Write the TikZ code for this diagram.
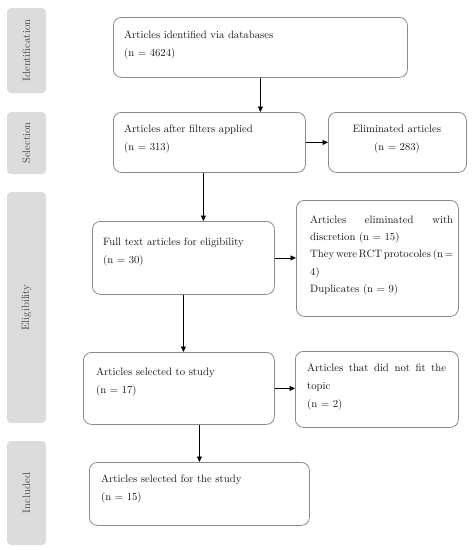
\documentclass[tikz,border=0pt]{standalone}
\usetikzlibrary{arrows.meta}
\definecolor{boxline}{HTML}{8A8A8A}
\definecolor{sidefill}{HTML}{DCDCDC}
\definecolor{sidetext}{HTML}{4A4A4A}
\definecolor{maintext}{HTML}{151515}
\newcommand{\gapfill}{\hspace{1.8pt plus 1fill}}
\begin{document}
\begin{tikzpicture}[x=1pt,y=-1pt,
  box/.style={draw=boxline, line width=0.8pt, rounded corners=8pt, anchor=north west, inner sep=0pt},
  side/.style={fill=sidefill, rounded corners=4pt, rotate=90, minimum height=39pt, inner sep=0pt,
    text=sidetext, font=\fontsize{10.7}{13}\selectfont},
  txt/.style={anchor=north west, inner sep=0pt, align=left, text=maintext,
    font=\fontsize{10.7}{18}\selectfont},
  arr/.style={line width=0.7pt, -{Triangle[length=5.5pt,width=5pt]}}]
\useasboundingbox (0,0) rectangle (472,550);
% phase labels
\node[side, minimum width=85pt] (s1) at (26.5,50.5) {Identification};
\node[side, minimum width=62pt] (s2) at (26.5,143) {Selection};
\node[side, minimum width=231pt] (s3) at (26.5,307.5) {Eligibility};
\node[side, minimum width=104pt] (s4) at (26.5,493) {Included};
% boxes
\node[box, minimum width=294pt, minimum height=60pt] (b1) at (113,17) {};
\node[box, minimum width=192pt, minimum height=60pt] (b2) at (113,112) {};
\node[box, minimum width=138pt, minimum height=60pt] (e1) at (328,112) {};
\node[box, minimum width=182pt, minimum height=73pt] (b3) at (92,221) {};
\node[box, minimum width=162pt, minimum height=116pt] (r3) at (296,200) {};
\node[box, minimum width=191pt, minimum height=72pt] (b4) at (83,352) {};
\node[box, minimum width=163pt, minimum height=76pt] (r4) at (295,351) {};
\node[box, minimum width=220pt, minimum height=63pt] (b5) at (89,462) {};
% texts
\node[txt] (t1) at (124,30.5) {Articles identified via databases\\(n = 4624)};
\node[txt] (t2) at (124,124.5) {Articles after filters applied\\(n = 313)};
\node[txt, anchor=north, align=center] (te) at (397,124.5) {Eliminated articles\\(n = 283)};
\node[txt] (t3) at (103,237.5) {Full text articles for eligibility\\(n = 30)};
\node[txt, text width=143pt, font=\fontsize{10.7}{17.3}\selectfont] (tr3) at (310,215.5)
  {\makebox[143pt][l]{Articles\hfill eliminated\hfill with}\\discretion (n = 15)\\\makebox[143pt][l]{They\gapfill were\gapfill RCT\gapfill protocoles\gapfill (n\gapfill =}\\4)\\Duplicates (n = 9)};
\node[txt, text width=139pt] (tr4) at (307,363.5)
  {\makebox[139pt][l]{Articles\hfill that\hfill did\hfill not\hfill fit\hfill the}\\topic\\(n = 2)};
\node[txt] (t4) at (96,367.5) {Articles selected to study\\(n = 17)};
\node[txt] (t5) at (101,474.5) {Articles selected for the study\\(n = 15)};
% connectors
\draw[arr] (b1.south) -- (b1.south |- b2.north);
\draw[arr] (b2.east) -- (b2.east -| e1.west);
\draw[arr] ([xshift=-6pt]b2.south) -- ([xshift=-6pt]b2.south |- b3.north);
\draw[arr] (b3.east) -- (b3.east -| r3.west);
\draw[arr] (b3.south) -- (b3.south |- b4.north);
\draw[arr] (b4.east) -- (b4.east -| r4.west);
\draw[arr] (b5.north |- b4.south) -- (b5.north);
\end{tikzpicture}
\end{document}
